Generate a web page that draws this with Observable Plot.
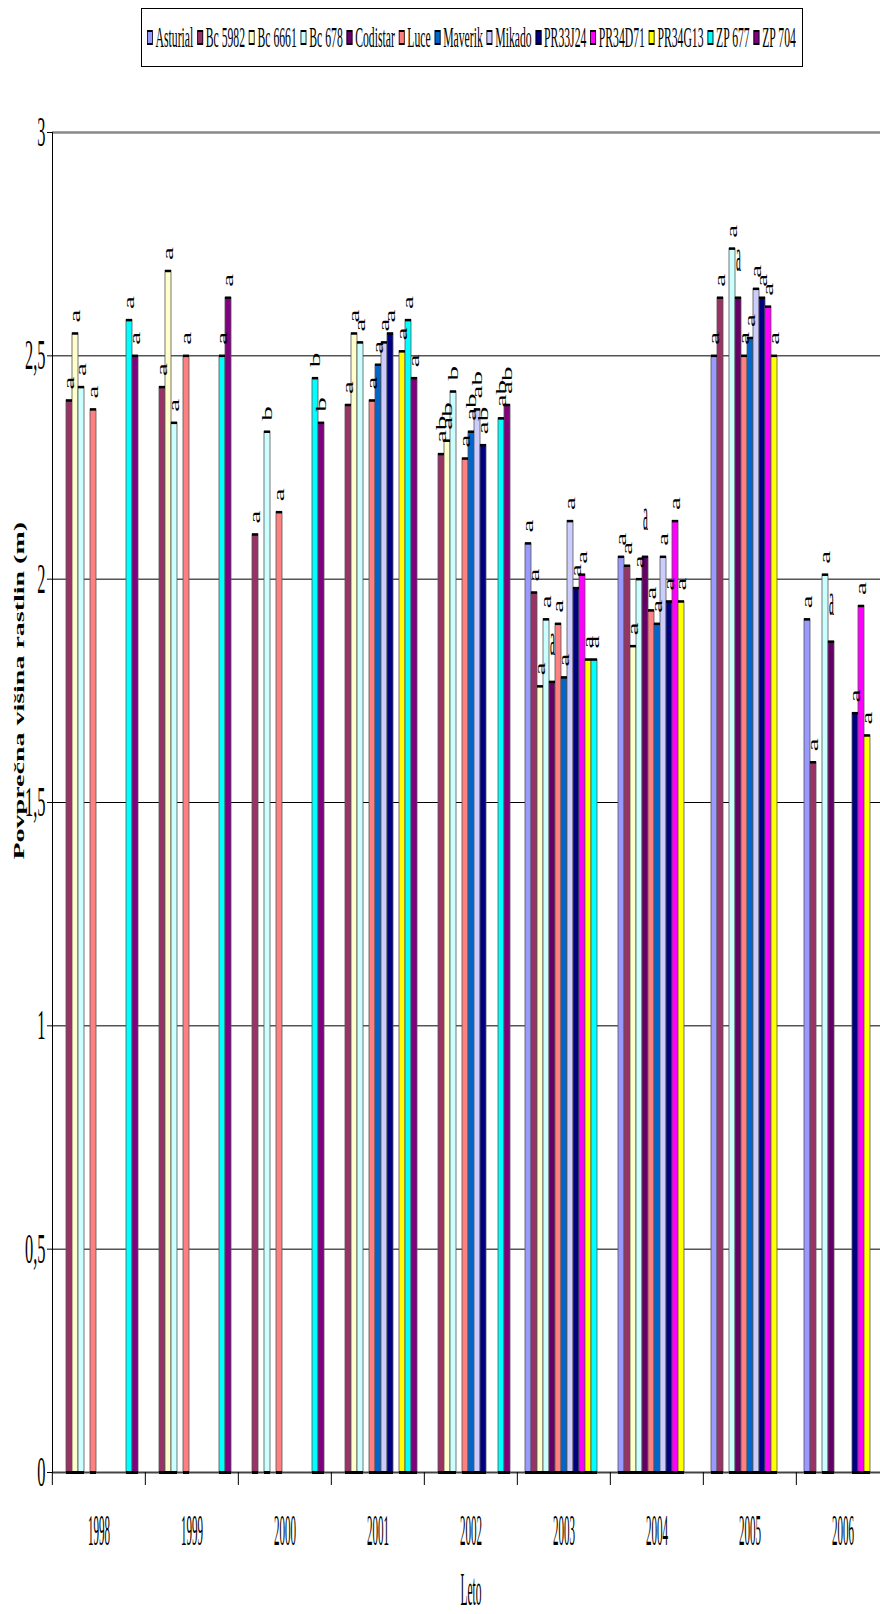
<!DOCTYPE html>
<html><head><meta charset="utf-8">
<script src="https://cdn.jsdelivr.net/npm/d3@7"></script>
<script src="https://cdn.jsdelivr.net/npm/@observablehq/plot@0.6"></script>
<style>
html,body{margin:0;padding:0;background:#fff;overflow:hidden}
#wrap{position:relative;width:880px;height:1614px}
#legend{position:absolute;left:141px;top:8px;width:662px;height:59px;border:1px solid #000;box-sizing:border-box;background:#fff;z-index:2}
#legend-inner{position:absolute;left:5px;top:13px;white-space:nowrap;transform-origin:0 0;font:30px 'Liberation Serif','Times New Roman',serif;line-height:30px;display:flex;align-items:center}
.item{display:inline-flex;align-items:center;margin-right:10px}
.item:last-child{margin-right:0}
.sw{display:inline-block;width:15px;height:15px;border:2px solid #000;box-sizing:border-box;margin-right:7px}
</style></head>
<body><div id="wrap"><div id="legend"><div id="legend-inner"></div></div></div>
<script>
const years = ["1998","1999","2000","2001","2002","2003","2004","2005","2006"];
const varieties = ["Asturial","Bc 5982","Bc 6661","Bc 678","Codistar","Luce","Maverik","Mikado","PR33J24","PR34D71","PR34G13","ZP 677","ZP 704"];
const colors = ["#9999FF","#993366","#FFFFCC","#CCFFFF","#660066","#FF8080","#0066CC","#CCCCFF","#000080","#FF00FF","#FFFF00","#00FFFF","#800080"];

// values per year, in the order of `varieties` (null = no bar)
const v1998 = [null, 2.40, 2.55, 2.43, null, 2.38, null, null, null, null, null, 2.58, 2.50];
const v1999 = [null, 2.43, 2.69, 2.35, null, 2.50, null, null, null, null, null, 2.50, 2.63];
const v2000 = [null, 2.10, null, 2.33, null, 2.15, null, null, null, null, null, 2.45, 2.35];
const v2001 = [null, 2.39, 2.55, 2.53, null, 2.40, 2.48, 2.53, 2.55, null, 2.51, 2.58, 2.45];
const v2002 = [null, 2.28, 2.31, 2.42, null, 2.27, 2.33, 2.38, 2.30, null, null, 2.36, 2.39];
const v2003 = [2.08, 1.97, 1.76, 1.91, 1.77, 1.90, 1.78, 2.13, 1.98, 2.01, 1.82, 1.82, null];
const v2004 = [2.05, 2.03, 1.85, 2.00, 2.05, 1.93, 1.90, 2.05, 1.95, 2.13, 1.95, null, null];
const v2005 = [2.50, 2.63, null, 2.74, 2.63, 2.50, 2.54, 2.65, 2.63, 2.61, 2.50, null, null];
const v2006 = [1.91, 1.59, null, 2.01, 1.86, null, null, null, 1.70, 1.94, 1.65, null, null];

// significance letters per year
const l1998 = [null,"a","a","a",null,"a",null,null,null,null,null,"a","a"];
const l1999 = [null,"a","a","a",null,"a",null,null,null,null,null,"a","a"];
const l2000 = [null,"a",null,"b",null,"a",null,null,null,null,null,"b","b"];
const l2001 = [null,"a","a","a",null,"a","a","a","a",null,"a","a","a"];
const l2002 = [null,"ab","ab","b",null,"a","ab","ab","ab",null,null,"ab","ab"];
const l2003 = ["a","a","a","a","a","a","a","a","a","a","a","a",null];
const l2004 = ["a","a","a","a","a","a","a","a","a","a","a",null,null];
const l2005 = ["a","a",null,"a","a","a","a","a","a","a","a",null,null];
const l2006 = ["a","a",null,"a","a",null,null,null,"a","a","a",null,null];

const yTicks = [0, 0.5, 1, 1.5, 2, 2.5, 3];
const yTitle = "Povprečna višina rastlin (m)";
const xTitle = "Leto";

const values = [v1998, v1999, v2000, v2001, v2002, v2003, v2004, v2005, v2006];
const labels = [l1998, l1999, l2000, l2001, l2002, l2003, l2004, l2005, l2006];
const rows = [];
years.forEach((yr, i) => varieties.forEach((v, j) => {
  if (values[i][j] != null) rows.push({year: yr, variety: v, value: values[i][j], label: labels[i][j]});
}));

const serif = "'Liberation Serif','Times New Roman',serif";
const comma = d => String(d).replace(".", ",");
const fxRange = [50, 890];
const half = (fxRange[1] - fxRange[0]) / years.length / 2;

const svg = Plot.plot({
  width: 880, height: 1614,
  marginTop: 132, marginBottom: 142, marginLeft: 50, marginRight: -10,
  style: {background: "#fff", fontFamily: serif, color: "#000", overflow: "hidden"},
  fx: {domain: years, range: fxRange, padding: 0},
  x: {domain: varieties, paddingInner: 0, paddingOuter: 0.67, align: 0.5, axis: null},
  y: {domain: [0, 3]},
  color: {domain: varieties, range: colors},
  marks: [
    Plot.ruleY(yTicks.filter(t => t > 0 && t < 3), {stroke: "#000", strokeWidth: 1}),
    Plot.ruleY([3], {stroke: "#888", strokeWidth: 2.5}),
    Plot.barY(rows, {fx: "year", x: "variety", y: "value", fill: "variety", stroke: "#555", strokeWidth: 0.8}),
    Plot.ruleY([0], {stroke: "#444", strokeWidth: 2}),
    Plot.tickY(rows, {fx: "year", x: "variety", y: "value", stroke: "#000", strokeWidth: 2.5}),
    Plot.tickY(rows, {fx: "year", x: "variety", y: () => 0, stroke: "#000", strokeWidth: 3}),
    Plot.text(rows.filter(d => d.variety !== "Codistar"), {fx: "year", x: "variety", y: "value", text: "label", rotate: -90, textAnchor: "start", dy: -11, fontSize: 29, fontFamily: serif, fill: "#000", ariaDescription: "rot-label"}),
    Plot.text(rows.filter(d => d.variety === "Codistar"), {fx: "year", x: "variety", y: "value", text: "label", lineAnchor: "bottom", dy: -27, fontSize: 46, fontFamily: serif, fill: "#000", ariaDescription: "up-label"}),
    Plot.frame({anchor: "left", facetAnchor: "left", stroke: "#000"}),
    Plot.axisY(yTicks, {anchor: "left", tickSize: 5, tickFormat: () => "", label: null}),
    Plot.text(yTicks, {y: d => d, text: comma, frameAnchor: "left", facetAnchor: "left", textAnchor: "end", dx: -7, fontSize: 42, fontFamily: serif, fill: "#000", ariaDescription: "y-tick-label"}),
    Plot.axisFx({anchor: "bottom", tickSize: 13, dx: -half, tickFormat: () => "", label: null}),
    Plot.text(years, {fx: d => d, frameAnchor: "bottom", dy: 72, fontSize: 45, fontFamily: serif, fill: "#000", ariaDescription: "year-label"}),
    Plot.text([xTitle], {facet: "super", frameAnchor: "bottom", dy: 132, fontSize: 46, fontFamily: serif, fill: "#000", ariaDescription: "x-title"}),
    Plot.text([yTitle], {facet: "super", frameAnchor: "left", dx: -33, dy: 57, rotate: -90, fontSize: 28, fontWeight: "bold", fontFamily: serif, fill: "#000", ariaDescription: "y-title"})
  ]
});
document.getElementById("wrap").appendChild(svg);

function squash(name, sx, sy) {
  svg.querySelectorAll(`g[aria-description="${name}"] text`).forEach(t => {
    const tr = t.getAttribute("transform") || "";
    t.setAttribute("transform", `${tr} scale(${sx},${sy})`.trim());
  });
}
squash("rot-label", 1, 0.52);
squash("up-label", 0.24, 1);
squash("y-tick-label", 0.39, 1);
squash("year-label", 0.245, 1);
squash("x-title", 0.25, 1);
squash("y-title", 1, 0.55);

// legend
const inner = document.getElementById("legend-inner");
varieties.forEach((v, i) => {
  const it = document.createElement("span");
  it.className = "item";
  const sw = document.createElement("span");
  sw.className = "sw";
  sw.style.background = colors[i];
  const lb = document.createElement("span");
  lb.textContent = v;
  it.appendChild(sw); it.appendChild(lb);
  inner.appendChild(it);
});
const natural = inner.offsetWidth;
inner.style.transform = `scaleX(${649 / natural})`;
</script>
</body></html>
